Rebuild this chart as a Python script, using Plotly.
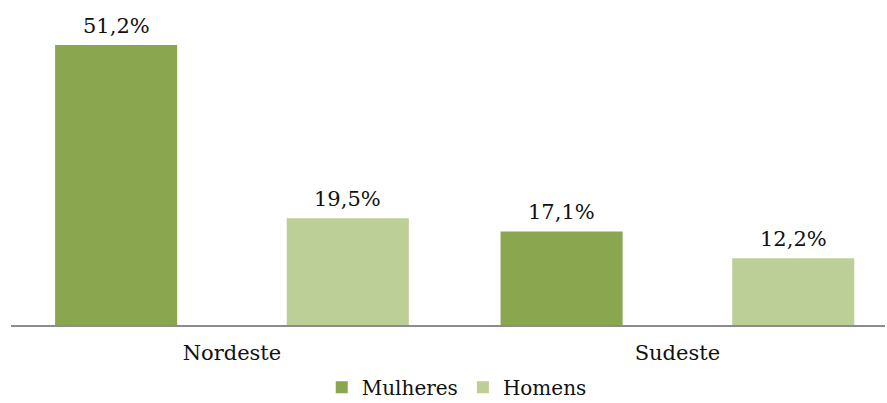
import plotly.graph_objects as go

regioes = ["Nordeste", "Sudeste"]
mulheres = [51.2, 17.1]
homens = [19.5, 12.2]

series = [
    ("Mulheres", mulheres, "#8AA64F", -0.397),
    ("Homens", homens, "#BBCF96", 0.123),
]
bar_width = 0.274
font_family = "DejaVu Serif"

fig = go.Figure()
annotations = []
for name, vals, color, offset in series:
    fig.add_trace(go.Bar(
        name=name, x=regioes, y=vals,
        marker=dict(color=color, line=dict(width=0)),
        width=bar_width, offset=offset,
    ))
    for i, v in enumerate(vals):
        annotations.append(dict(
            x=i + offset + bar_width / 2, y=v, xref="x", yref="y",
            text=f"{v:.1f}%".replace(".", ","), showarrow=False,
            yanchor="bottom", yshift=5,
            font=dict(family=font_family, size=21, color="#111111"),
        ))

fig.update_layout(
    width=887, height=403,
    margin=dict(l=11, r=2, t=10, b=78, autoexpand=False),
    paper_bgcolor="white", plot_bgcolor="white",
    barmode="overlay",
    showlegend=True,
    legend=dict(orientation="h", x=0.51, xanchor="center",
                yref="container", y=0.039, yanchor="middle",
                font=dict(family=font_family, size=20, color="#111111"),
                itemwidth=30, traceorder="normal"),
    annotations=annotations,
    xaxis=dict(range=[-0.496, 1.466], showline=True, linecolor="#8C8C8C", linewidth=2,
               ticks="outside", ticklen=8, tickcolor="rgba(0,0,0,0)",
               showgrid=False, zeroline=False, automargin=False,
               tickfont=dict(family=font_family, size=21, color="#111111")),
    yaxis=dict(range=[0, 57.6], visible=False, showgrid=False, zeroline=False),
)

fig.write_html("out.html")
